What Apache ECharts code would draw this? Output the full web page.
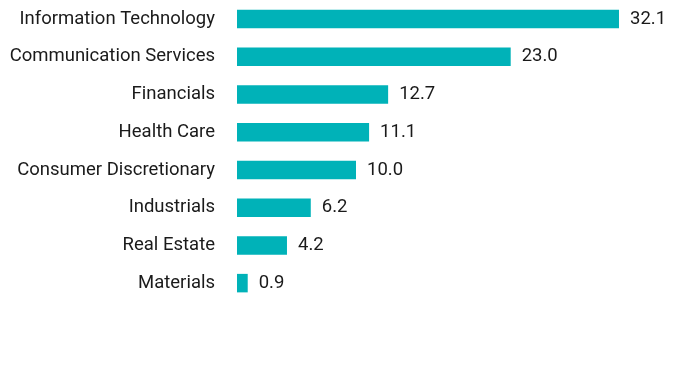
<!DOCTYPE html>
<html><head><meta charset="utf-8">
<script src="https://cdn.jsdelivr.net/npm/echarts@6/dist/echarts.min.js"></script>
<style>html,body{margin:0;padding:0;background:#fff}#c{width:696px;height:384px}</style>
</head><body><div id="c"></div>
<script>
const categories = ["Information Technology","Communication Services","Financials","Health Care","Consumer Discretionary","Industrials","Real Estate","Materials"];
const values = [32.1,23.0,12.7,11.1,10.0,6.2,4.2,0.9];
const chart = echarts.init(document.getElementById('c'));
chart.setOption({
  animation:false,
  grid:{left:237,top:0,width:11.9*36,height:302},
  xAxis:{type:'value',min:0,max:36,show:false},
  yAxis:{type:'category',inverse:true,data:categories,
    axisLine:{show:false},axisTick:{show:false},
    axisLabel:{margin:22,fontFamily:'Roboto',fontSize:18.5,color:'#1a1a1a'}},
  series:[{type:'bar',data:values,barWidth:18.5,
    itemStyle:{color:'#00b2b8'},
    label:{show:true,position:'right',distance:11,fontFamily:'Roboto',fontSize:18.5,color:'#1a1a1a',
      formatter:p=>p.value.toFixed(1)}}]
});
</script></body></html>
